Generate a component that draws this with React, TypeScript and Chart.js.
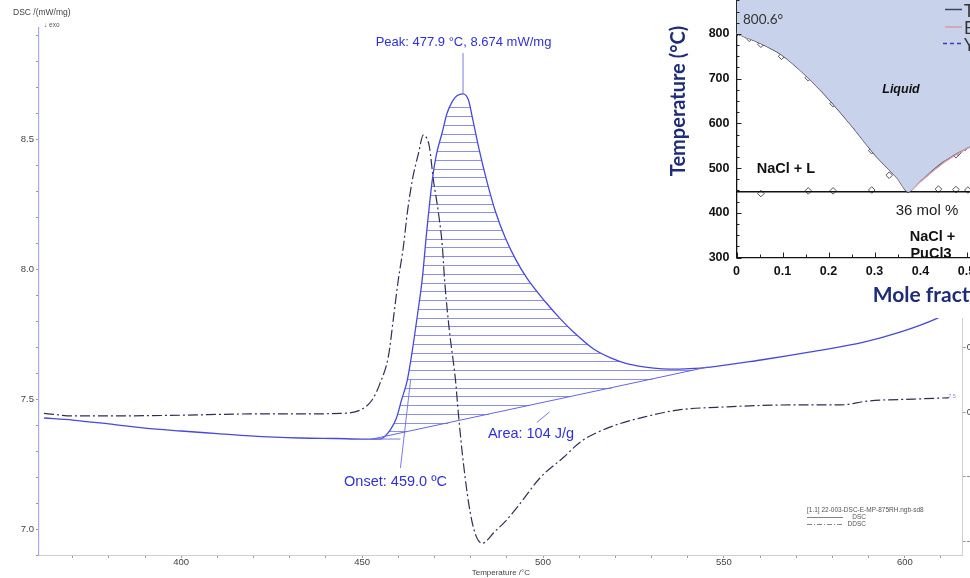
import React, { useEffect, useRef } from 'react';
import { Chart, registerables } from 'chart.js';
Chart.register(...registerables);

// ---------------- DSC (main chart) data ----------------
const dscT = [362.1, 370, 380, 390, 400, 410, 419, 433, 443, 450, 455, 456.4, 457.8, 459.5, 460.9, 462.5, 463.9, 465.3, 466.6, 467.9, 469.4, 470.5, 472.1, 473.5, 475, 476.3, 477.9, 479.4, 480.5, 482.2, 484.4, 486.9, 489.6, 492.4, 495.7, 500.7, 504.8, 508.4, 514, 518.7, 523.4, 530.6, 535.3, 546.3, 560.2, 574, 588.7, 598.9, 608.6, 613];
const dscV = [7.427, 7.419, 7.404, 7.388, 7.377, 7.367, 7.358, 7.35, 7.348, 7.346, 7.346, 7.358, 7.381, 7.427, 7.496, 7.573, 7.688, 7.823, 7.958, 8.15, 8.342, 8.438, 8.523, 8.6, 8.646, 8.667, 8.674, 8.65, 8.581, 8.469, 8.342, 8.219, 8.119, 8.038, 7.962, 7.873, 7.808, 7.758, 7.692, 7.658, 7.635, 7.619, 7.615, 7.623, 7.65, 7.681, 7.719, 7.758, 7.808, 7.84];

const ddscT = [362.1, 370.1, 380.4, 400, 419.1, 432.9, 444, 449.5, 452.8, 455, 457.3, 458.6, 460, 461.4, 462.5, 463.9, 465.6, 466.9, 467.8, 468.6, 469.7, 471.1, 472.2, 472.8, 474.1, 475.8, 476.6, 478, 479.9, 481.6, 483.3, 484.6, 486.3, 489.6, 492.9, 499.3, 505.7, 510.4, 518.7, 527.8, 537.2, 551, 569.3, 582.3, 589.8, 602.5, 612.2];
const ddscU = [-0.002, -0.006, -0.006, -0.005, -0.003, -0.003, -0.002, 0.003, 0.019, 0.045, 0.087, 0.142, 0.204, 0.255, 0.308, 0.359, 0.400, 0.428, 0.424, 0.410, 0.359, 0.308, 0.255, 0.204, 0.127, 0.050, -0.002, -0.079, -0.156, -0.193, -0.203, -0.198, -0.187, -0.169, -0.147, -0.101, -0.070, -0.046, -0.023, -0.008, 0.003, 0.008, 0.011, 0.011, 0.017, 0.020, 0.022];

const baseT = [452.8, 545.5];
const baseV = [7.346, 7.623];
const onsetExtT = [452.3, 460.6];
const onsetExtV = [7.346, 7.346];
const onsetTanT = [460.6, 463.4];
const onsetTanV = [7.235, 7.573];
const peakLineT = [477.9, 477.9];
const peakLineV = [8.674, 8.831];
const areaLeadT = [498.3, 501.8];
const areaLeadV = [7.41, 7.45];
const hatchTop = 8.622;
const hatchStep = 0.0337;

const xMajor = [400, 450, 500, 550, 600];
const yMajor = [7.0, 7.5, 8.0, 8.5];

// ---------------- Phase diagram (inset) data ----------------
const liqX = [0, 0.03, 0.06, 0.1, 0.15, 0.2, 0.25, 0.3, 0.35, 0.373, 0.4, 0.45, 0.5, 0.55, 0.6, 0.7, 0.8, 0.9, 1.0];
const liqTcalc = [800.6, 789, 775, 752, 708, 655, 595, 531, 477, 447, 472, 515, 545, 567, 590, 632, 676, 720, 767];
const liqEcalc = [800.6, 790, 777, 755, 710, 658, 598, 534, 479, 449, 470, 512, 543, 565, 588, 630, 673, 718, 765];
const liqYcalc = [800.6, 789, 776, 754, 709, 657, 597, 533, 478, 448, 471, 513, 544, 566, 589, 631, 675, 719, 766];
const eutX = [0, 1];
const eutT = [447, 447];
const expLiqX = [0.028, 0.053, 0.098, 0.156, 0.21, 0.294, 0.332, 0.373, 0.439, 0.477, 0.482, 0.497];
const expLiqT = [790, 777, 750, 702, 644, 539, 484, 465, 510, 530, 535, 546];
const expEutX = [0.053, 0.156, 0.21, 0.294, 0.373, 0.439, 0.477, 0.503];
const expEutT = [443, 449, 449, 451, 452, 453, 452, 451];

const pts = (xs: number[], ys: number[]) => xs.map((x, i) => ({ x, y: ys[i] }));
const interp = (xs: number[], ys: number[], t: number) => {
  if (t <= xs[0]) return ys[0];
  for (let i = 1; i < xs.length; i++) {
    if (t <= xs[i]) {
      const f = (t - xs[i - 1]) / (xs[i] - xs[i - 1]);
      return ys[i - 1] + f * (ys[i] - ys[i - 1]);
    }
  }
  return ys[ys.length - 1];
};
const near = (v: number, arr: number[]) => arr.some((a) => Math.abs(a - v) < 1e-6);

const SANS = '"Liberation Sans", Arial, sans-serif';
const DSC_BLUE = '#4848dc';
const HATCH = '#8e8eec';

const hatchPlugin = {
  id: 'hatch',
  beforeDatasetsDraw(chart: any) {
    const xs = chart.scales.x, ys = chart.scales.y, ctx = chart.ctx;
    const a = chart.chartArea;
    ctx.save();
    ctx.beginPath();
    ctx.rect(a.left, a.top, a.right - a.left, a.bottom - a.top);
    ctx.clip();
    ctx.strokeStyle = HATCH;
    ctx.lineWidth = 1;
    const t0 = baseT[0], t1 = baseT[1], n = 3000;
    for (let v = hatchTop; v > baseV[0]; v -= hatchStep) {
      const py = Math.round(ys.getPixelForValue(v)) + 0.5;
      let start: number | null = null, prev = t0;
      for (let i = 0; i <= n; i++) {
        const t = t0 + ((t1 - t0) * i) / n;
        const inside = interp(dscT, dscV, t) >= v && interp(baseT, baseV, t) <= v;
        if (inside && start === null) start = t;
        if (start !== null && (!inside || i === n)) {
          const end = inside ? t : prev;
          ctx.beginPath();
          ctx.moveTo(xs.getPixelForValue(start), py);
          ctx.lineTo(xs.getPixelForValue(end), py);
          ctx.stroke();
          start = null;
        }
        prev = t;
      }
    }
    ctx.restore();
  },
};

const inTicksPlugin = {
  id: 'inTicks',
  afterDraw(chart: any) {
    const xs = chart.scales.x, ys = chart.scales.y, ctx = chart.ctx;
    ctx.save();
    ctx.strokeStyle = '#222';
    ctx.lineWidth = 1;
    xs.ticks.forEach((t: any) => {
      const p = Math.round(xs.getPixelForValue(t.value)) + 0.5;
      const len = t.label ? 5 : 3;
      ctx.beginPath();
      ctx.moveTo(p, xs.top);
      ctx.lineTo(p, xs.top - len);
      ctx.stroke();
    });
    ys.ticks.forEach((t: any) => {
      const p = Math.round(ys.getPixelForValue(t.value)) + 0.5;
      const len = t.label ? 5 : 3;
      ctx.beginPath();
      ctx.moveTo(ys.right, p);
      ctx.lineTo(ys.right + len, p);
      ctx.stroke();
    });
    ctx.restore();
  },
};

const whiteBg = {
  id: 'whiteBg',
  beforeDraw(chart: any) {
    const ctx = chart.ctx;
    ctx.save();
    ctx.fillStyle = '#fff';
    ctx.fillRect(0, 0, chart.width, chart.height);
    ctx.restore();
  },
};

const Txt = ({ x, y, children, style, anchor = 'center' }: any) => (
  <div
    style={{
      position: 'absolute',
      left: x,
      top: y,
      transform:
        anchor === 'center' ? 'translate(-50%,-50%)' : anchor === 'left' ? 'translate(0,-50%)' : 'translate(-100%,-50%)',
      whiteSpace: 'nowrap',
      lineHeight: 1,
      ...style,
    }}
  >
    {children}
  </div>
);

export default function App() {
  const mainRef = useRef<HTMLCanvasElement>(null);
  const insetRef = useRef<HTMLCanvasElement>(null);

  useEffect(() => {
    const thin = (data: any, color: string, w = 1) => ({
      data, borderColor: color, borderWidth: w, pointRadius: 0, fill: false, tension: 0,
    });
    const main = new Chart(mainRef.current!, {
      type: 'line',
      data: {
        datasets: [
          { ...thin(pts(baseT, baseV), '#6464e2', 1) },
          { ...thin(pts(onsetExtT, onsetExtV), '#7a7ae6', 1) },
          { ...thin(pts(onsetTanT, onsetTanV), '#7a7ae6', 1) },
          { ...thin(pts(peakLineT, peakLineV), '#7a7ae6', 1) },
          { ...thin(pts(areaLeadT, areaLeadV), '#7a7ae6', 1) },
          {
            data: pts(dscT, dscV), borderColor: DSC_BLUE, borderWidth: 1.3, pointRadius: 0,
            cubicInterpolationMode: 'monotone', fill: false,
          },
          {
            data: pts(ddscT, ddscU), yAxisID: 'y2', borderColor: '#2e2e52', borderWidth: 1.2, pointRadius: 0,
            borderDash: [10, 3, 2, 3], cubicInterpolationMode: 'monotone', fill: false,
          },
        ] as any,
      },
      options: {
        responsive: false,
        animation: false,
        events: [],
        layout: { padding: { top: 28, left: 0, right: 0, bottom: 0 } },
        plugins: { legend: { display: false }, tooltip: { enabled: false } },
        scales: {
          x: {
            type: 'linear', position: 'bottom', min: 360.7, max: 616,
            afterFit: (s: any) => { s.height = 23; },
            border: { color: '#cfcfcf', width: 1 },
            grid: { drawOnChartArea: false, drawTicks: true, tickLength: 3, color: '#999' },
            ticks: {
              stepSize: 10, autoSkip: false, maxRotation: 0, includeBounds: false, padding: -1,
              color: '#444', font: { family: SANS, size: 9.5 },
              callback: (v: any) => (near(Number(v), xMajor) ? String(Math.round(Number(v))) : ''),
            },
            title: { display: true, text: 'Temperature /°C', color: '#444', font: { family: SANS, size: 8 }, padding: { top: 0, bottom: 0 } },
          },
          y: {
            type: 'linear', position: 'left', min: 6.9, max: 8.927,
            afterFit: (s: any) => { s.width = 39; },
            border: { color: '#a9a9ee', width: 1.2 },
            grid: { drawOnChartArea: false, drawTicks: true, tickLength: 3, color: '#999' },
            ticks: {
              stepSize: 0.1, autoSkip: false, includeBounds: false, padding: 2,
              color: '#444', font: { family: SANS, size: 9.5 },
              callback: (v: any) => (near(Number(v), yMajor) ? Number(v).toFixed(1) : ''),
            },
          },
          y2: {
            type: 'linear', position: 'right', min: -0.221, max: 0.5935,
            afterFit: (s: any) => { s.width = 37.3; },
            border: { color: '#cfcfcf', width: 1 },
            grid: { drawOnChartArea: false, drawTicks: true, tickLength: 3, color: '#999' },
            ticks: {
              stepSize: 0.1, autoSkip: false, includeBounds: false, padding: 1,
              color: '#444', font: { family: SANS, size: 9.5 },
              callback: (v: any) => Number(v).toFixed(1),
            },
          },
        },
      } as any,
      plugins: [hatchPlugin],
    });

    const inset = new Chart(insetRef.current!, {
      type: 'line',
      data: {
        datasets: [
          {
            data: pts(liqX, liqTcalc), borderWidth: 0, pointRadius: 0, fill: 'end',
            backgroundColor: '#c8d2eb', borderColor: 'rgba(0,0,0,0)', tension: 0.3,
          },
          { data: pts(liqX, liqEcalc), borderColor: '#d99aa6', borderWidth: 1.4, pointRadius: 0, fill: false, tension: 0.3 },
          { data: pts(liqX, liqTcalc), borderColor: '#3e4558', borderWidth: 1.4, pointRadius: 0, fill: false, tension: 0.3 },
          { data: pts(liqX, liqYcalc), borderColor: '#3a3ad4', borderWidth: 1.1, borderDash: [4, 3], pointRadius: 0, fill: false, tension: 0.3 },
          { data: pts(eutX, eutT), borderColor: '#111', borderWidth: 1.3, pointRadius: 0, fill: false },
          {
            data: pts(expLiqX, expLiqT), showLine: false, pointStyle: 'rectRot', pointRadius: 3.3,
            borderColor: '#555', borderWidth: 1, backgroundColor: 'rgba(255,255,255,0)',
          },
          {
            data: pts(expEutX, expEutT), showLine: false, pointStyle: 'rectRot', pointRadius: 3.3,
            borderColor: '#555', borderWidth: 1, backgroundColor: 'rgba(255,255,255,0)',
          },
          {
            data: [{ x: 0, y: 800.6 }], showLine: false, pointStyle: 'circle', pointRadius: 2,
            borderColor: '#333', backgroundColor: '#333',
          },
        ] as any,
      },
      options: {
        responsive: false,
        animation: false,
        events: [],
        layout: { padding: { top: 12.2, right: 43.5, left: 0, bottom: 0 } },
        plugins: { legend: { display: false }, tooltip: { enabled: false } },
        scales: {
          x: {
            type: 'linear', min: 0, max: 1,
            afterFit: (s: any) => { s.height = 60.5; },
            border: { color: '#111', width: 1.3 },
            grid: { drawOnChartArea: false, drawTicks: false },
            ticks: {
              stepSize: 0.05, autoSkip: false, maxRotation: 0, padding: 7, color: '#111',
              font: { family: SANS, size: 12.5, weight: 'bold' },
              callback: (v: any) => {
                const n = Number(v);
                if (Math.abs(n * 10 - Math.round(n * 10)) > 1e-6) return '';
                return n === 0 ? '0' : n.toFixed(1);
              },
            },
            title: {
              display: true, text: 'Mole fraction PuCl3', color: '#1f2c78',
              font: { family: 'Lato, "Open Sans", sans-serif', size: 21, weight: 'bold' },
              padding: { top: 0, bottom: 10.4 },
            },
          },
          y: {
            type: 'linear', min: 300, max: 1000,
            afterFit: (s: any) => { s.width = 96.5; },
            border: { color: '#111', width: 1.3 },
            grid: { drawOnChartArea: false, drawTicks: false },
            ticks: {
              stepSize: 25, autoSkip: false, padding: 7, color: '#111',
              font: { family: SANS, size: 12.5, weight: 'bold' },
              callback: (v: any) => (Math.abs(Number(v) % 100) < 1e-6 ? String(Math.round(Number(v))) : ''),
            },
            title: {
              display: true, text: 'Temperature (°C)', color: '#1f2c78',
              font: { family: 'Lato, "Open Sans", sans-serif', size: 20, weight: 'bold' },
              padding: { top: 26.5, bottom: 0 },
            },
          },
        },
      } as any,
      plugins: [whiteBg, inTicksPlugin],
    });

    return () => {
      main.destroy();
      inset.destroy();
    };
  }, []);

  const blue = '#3030dc';
  const small = { fontFamily: SANS, color: '#555' };
  return (
    <div style={{ position: 'fixed', left: 0, top: 0, width: 970, height: 578, overflow: 'hidden', background: '#fff' }}>
      <canvas ref={mainRef} width={1000} height={578} style={{ position: 'absolute', left: 0, top: 0, width: 1000, height: 578 }} />

      <Txt x={13} y={11.5} anchor="left" style={{ fontFamily: SANS, fontSize: 8.5, color: '#444' }}>DSC /(mW/mg)</Txt>
      <Txt x={44} y={25} anchor="left" style={{ fontFamily: SANS, fontSize: 6.5, color: '#555' }}>↓ exo</Txt>

      <Txt x={463.5} y={41} style={{ fontFamily: SANS, fontSize: 13, color: blue }}>Peak: 477.9 °C, 8.674 mW/mg</Txt>
      <Txt x={395.5} y={481} style={{ fontFamily: SANS, fontSize: 14.5, color: blue }}>Onset: 459.0 ºC</Txt>
      <Txt x={531} y={433} style={{ fontFamily: SANS, fontSize: 14.5, color: blue }}>Area: 104 J/g</Txt>
      <Txt x={952} y={397} style={{ fontFamily: SANS, fontSize: 5.5, color: '#8a8ae8' }}>7.5</Txt>

      <Txt x={807} y={510} anchor="left" style={{ ...small, fontSize: 6.5 }}>[1.1] 22-003-DSC-E-MP-875RH.ngb-sd8</Txt>
      <svg style={{ position: 'absolute', left: 805, top: 514, width: 42, height: 14 }}>
        <line x1={2} y1={3.5} x2={38} y2={3.5} stroke="#666" strokeWidth={0.8} />
        <line x1={2} y1={10.5} x2={38} y2={10.5} stroke="#666" strokeWidth={0.8} strokeDasharray="5 2 1 2" />
      </svg>
      <Txt x={866} y={517} anchor="right" style={{ ...small, fontSize: 6.5 }}>DSC</Txt>
      <Txt x={866} y={524} anchor="right" style={{ ...small, fontSize: 6.5 }}>DDSC</Txt>

      <canvas ref={insetRef} width={600} height={388} style={{ position: 'absolute', left: 640, top: -70, width: 600, height: 388 }} />

      <Txt x={743} y={20} anchor="left" style={{ fontFamily: 'Lato, sans-serif', fontSize: 13.5, color: '#333' }}>800.6°</Txt>
      <Txt x={901} y={89} style={{ fontFamily: SANS, fontSize: 12.5, fontWeight: 'bold', fontStyle: 'italic', color: '#111' }}>Liquid</Txt>
      <Txt x={786} y={168} style={{ fontFamily: SANS, fontSize: 14.5, fontWeight: 'bold', color: '#111' }}>NaCl + L</Txt>
      <Txt x={927} y={209} style={{ fontFamily: SANS, fontSize: 15, color: '#222' }}>36 mol %</Txt>
      <Txt x={932.5} y={236} style={{ fontFamily: SANS, fontSize: 14.5, fontWeight: 'bold', color: '#111' }}>NaCl +</Txt>
      <Txt x={931} y={252.5} style={{ fontFamily: SANS, fontSize: 14.5, fontWeight: 'bold', color: '#111' }}>PuCl3</Txt>

      <svg style={{ position: 'absolute', left: 940, top: 0, width: 26, height: 52 }}>
        <line x1={5} y1={9.5} x2={22} y2={9.5} stroke="#3e4558" strokeWidth={1.5} />
        <line x1={5} y1={27} x2={22} y2={27} stroke="#d99aa6" strokeWidth={1.5} />
        <line x1={3} y1={43.5} x2={22} y2={43.5} stroke="#3a3ad4" strokeWidth={1.3} strokeDasharray="4 3" />
      </svg>
      <Txt x={964} y={9.5} anchor="left" style={{ fontFamily: 'Lato, sans-serif', fontSize: 17, color: '#333' }}>This work</Txt>
      <Txt x={964} y={27} anchor="left" style={{ fontFamily: 'Lato, sans-serif', fontSize: 17, color: '#333' }}>Experiment</Txt>
      <Txt x={964} y={43.5} anchor="left" style={{ fontFamily: 'Lato, sans-serif', fontSize: 17, color: '#333' }}>Yin et al.</Txt>
    </div>
  );
}
